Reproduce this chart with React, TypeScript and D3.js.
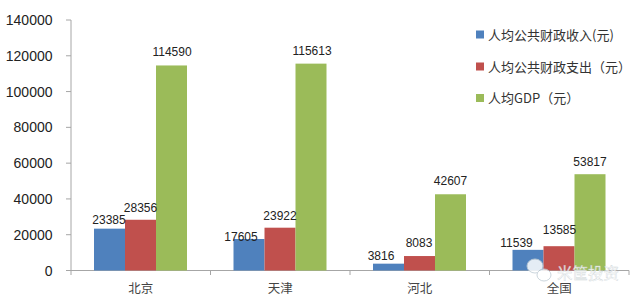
import React from "react";
import * as d3 from "d3";

const categories = ["北京", "天津", "河北", "全国"];
const seriesNames = ["人均公共财政收入(元)", "人均公共财政支出（元）", "人均GDP（元）"];
const revenue = [23385, 17605, 3816, 11539];
const spending = [28356, 23922, 8083, 13585];
const gdp = [114590, 115613, 42607, 53817];
const yTicks = [0, 20000, 40000, 60000, 80000, 100000, 120000, 140000];
const colors = ["#4f81bd", "#c0504d", "#9bbb59"];
const series = [revenue, spending, gdp];

const W = 640, H = 302;
const x = d3.scaleBand<string>().domain(categories).range([71, 629]);
const inner = d3.scaleBand<number>().domain([0, 1, 2]).range([23, 116]);
const y = d3.scaleLinear().domain([0, 140000]).range([270.5, 20]);
const font = "'Liberation Sans', 'Noto Sans CJK SC', sans-serif";
const cjk = "'Noto Sans CJK SC', sans-serif";
const legendY = [34.5, 66.5, 98];
// label nudges [dx, dy above bar top], per category then series
const labelNudge: [number, number][][] = [
  [[-0.5, 5], [0, 8], [0.5, 9]],
  [[-8, -2], [0, 8], [1, 8.5]],
  [[-7.5, 4], [-0.5, 9], [0, 9]],
  [[-11.5, 3], [0.5, 12], [0, 8]],
];

export default function App() {
  return (
    <svg width={W} height={H} style={{ position: "absolute", left: 0, top: 0, background: "#fff" }}>
      <g stroke="#a6a6a6" strokeWidth={1} fill="none">
        <line x1={71} x2={71} y1={20} y2={270.5} />
        <line x1={66} x2={629} y1={270.5} y2={270.5} />
        {yTicks.map((t) => <line key={t} x1={66} x2={71} y1={y(t)} y2={y(t)} />)}
        {[...categories.map((c) => x(c)!), 629].map((p) => <line key={p} x1={p} x2={p} y1={270.5} y2={275} />)}
      </g>
      {yTicks.map((t) => (
        <text key={t} x={52.5} y={y(t) + 5} textAnchor="end" fontSize={14} fontFamily={font} fill="#222">{t}</text>
      ))}
      {series.map((vals, s) => vals.map((v, i) => {
        const bx = x(categories[i])! + inner(s)!;
        return <rect key={`${s}-${i}`} x={bx} y={y(v)} width={inner.bandwidth()} height={y(0) - y(v)} fill={colors[s]} />;
      }))}
      {series.map((vals, s) => vals.map((v, i) => {
        const bx = x(categories[i])! + inner(s)!;
        const [dx, dy] = labelNudge[i][s];
        return <text key={`${s}-${i}`} x={bx + inner.bandwidth() / 2 + dx} y={y(v) - dy} textAnchor="middle" fontSize={12} fontFamily={font} fill="#222">{v}</text>;
      }))}
      {categories.map((c) => (
        <text key={c} x={x(c)! + x.bandwidth() / 2} y={293} textAnchor="middle" fontSize={12.5} fontFamily={cjk} fill="#444">{c}</text>
      ))}
      {seriesNames.map((n, i) => (
        <g key={n}>
          <rect x={476} y={legendY[i] - 4} width={8} height={8} fill={colors[i]} />
          <text x={488} y={legendY[i] + 5} fontSize={13} fontFamily={cjk} fill="#333">{n}</text>
        </g>
      ))}
      <g opacity={0.85}>
        <ellipse cx={535} cy={266} rx={8} ry={7} fill="#fff" stroke="#c4d0d8" strokeWidth={1} />
        <ellipse cx={544} cy={275} rx={7} ry={6} fill="#fff" stroke="#c4d0d8" strokeWidth={1} />
        <text x={557} y={279} fontSize={15.5} fontFamily={cjk} fill="#fff" stroke="#c8d0d4" strokeWidth={0.4}>米筐投资</text>
      </g>
    </svg>
  );
}
